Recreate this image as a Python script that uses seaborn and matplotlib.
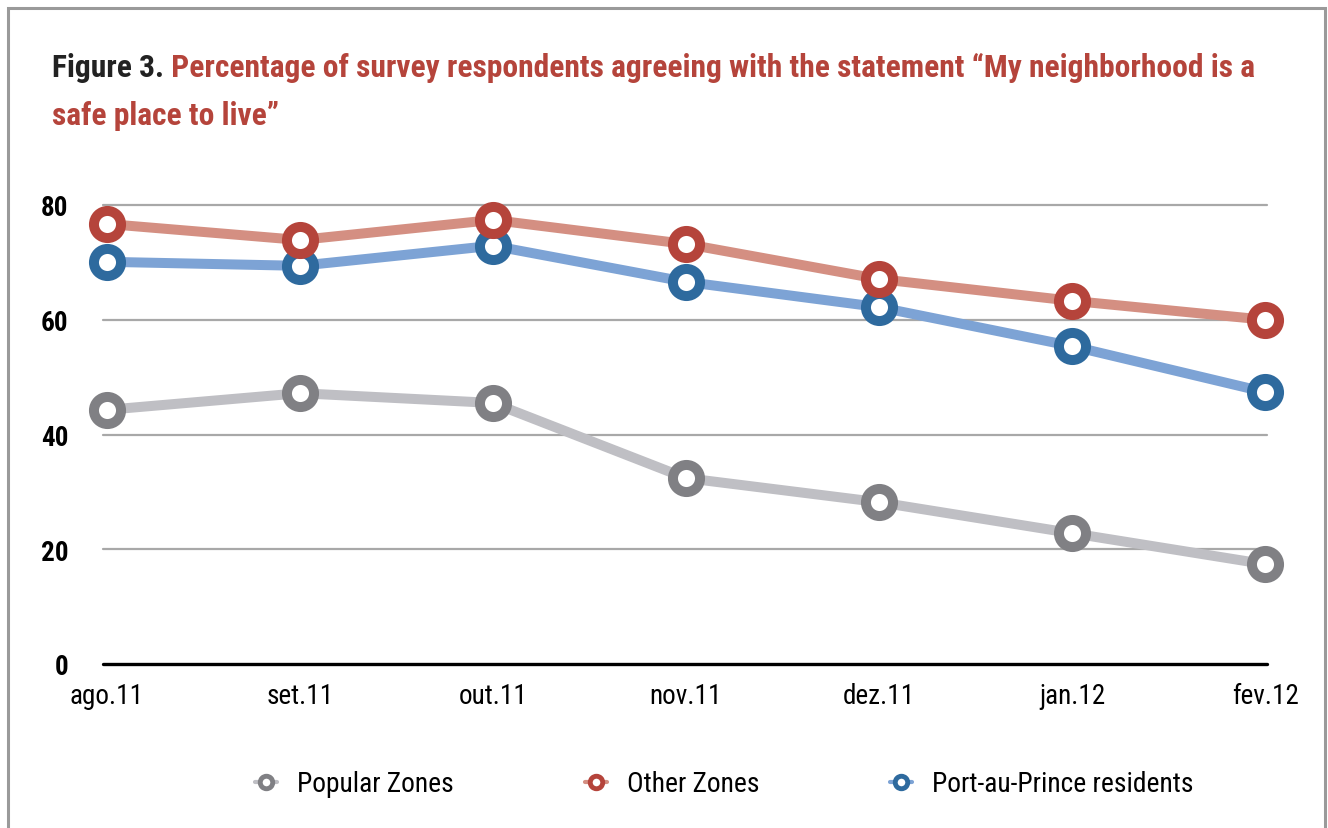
import matplotlib
matplotlib.use("Agg")
import matplotlib.pyplot as plt
from matplotlib.lines import Line2D
from matplotlib.patches import Rectangle
import pandas as pd
import seaborn as sns

months = ["ago.11", "set.11", "out.11", "nov.11", "dez.11", "jan.12", "fev.12"]
popular_zones = [44.3, 47.2, 45.5, 32.4, 28.2, 22.8, 17.4]
other_zones = [76.7, 73.9, 77.4, 73.2, 67.1, 63.3, 60.0]
port_au_prince = [70.1, 69.4, 72.9, 66.6, 62.2, 55.4, 47.4]
y_ticks = [0, 20, 40, 60, 80]

# name -> (values, line colour, marker ring colour); drawn in this order
SERIES = {
    "Popular Zones": (popular_zones, "#BFBFC4", "#808084"),
    "Port-au-Prince residents": (port_au_prince, "#7DA3D5", "#2E6A9E"),
    "Other Zones": (other_zones, "#D48F82", "#B5443B"),
}
LEGEND_ORDER = ["Popular Zones", "Other Zones", "Port-au-Prince residents"]

sns.set_theme(style="white")
plt.rcParams["font.family"] = ["Roboto Condensed", "Roboto", "DejaVu Sans"]

df = pd.DataFrame(
    [{"x": i, "value": v, "series": name}
     for name, (vals, _, _) in SERIES.items() for i, v in enumerate(vals)]
)

fig = plt.figure(figsize=(13.28, 8.29), dpi=100)
ax = fig.add_axes([103 / 1328, 1 - 665 / 829, (1267 - 103) / 1328, (665 - 206) / 829])

for g in y_ticks[1:]:
    ax.axhline(g, color="#A8A8A8", lw=1.6, zorder=1, clip_on=False)
ax.axhline(0, color="black", lw=2.4, zorder=2, clip_on=False)

for name, (vals, lc, mc) in SERIES.items():
    sns.lineplot(
        data=df[df["series"] == name], x="x", y="value", ax=ax,
        color=lc, lw=7.2, marker="o", markersize=19.5, markeredgewidth=7.2,
        markerfacecolor="white", markeredgecolor=mc, clip_on=False, zorder=3,
    )

ax.set_xlim(-0.02, 6.01)
ax.set_ylim(0, 80)
ax.set_yticks(y_ticks)
ax.set_yticklabels([str(t) for t in y_ticks], fontsize=19.5, fontweight="bold", color="black")
ax.set_xticks(range(len(months)))
ax.set_xticklabels(months, fontsize=19.5, color="black")
ax.tick_params(axis="y", length=0, pad=25)
ax.tick_params(axis="x", length=0, pad=13)
ax.set_xlabel("")
ax.set_ylabel("")
ax.spines[["top", "right", "left", "bottom"]].set_visible(False)
if ax.get_legend():
    ax.get_legend().remove()

handles = [
    Line2D([], [], color=SERIES[n][1], lw=3, marker="o", markersize=9,
           markeredgewidth=3.5, markerfacecolor="white", markeredgecolor=SERIES[n][2])
    for n in LEGEND_ORDER
]
fig.legend(handles, LEGEND_ORDER, loc="center", bbox_to_anchor=(0.5456, 1 - 785 / 829),
           ncol=3, frameon=False, fontsize=19.8, handlelength=0.8, handletextpad=0.73,
           columnspacing=4.76, labelcolor="black")

# title: dark "Figure 3." followed by the red caption
t1 = fig.text(52 / 1328, 1 - 77 / 829, "Figure 3.", fontsize=22.7, fontweight="bold",
              color="#222222", va="baseline", ha="left")
ax.annotate(" Percentage of survey respondents agreeing with the statement \u201cMy neighborhood is a",
            xy=(1, 0), xycoords=t1, va="bottom", ha="left", fontsize=22.7,
            fontweight="bold", color="#B5443B", annotation_clip=False)
fig.text(52 / 1328, 1 - 125 / 829, "safe place to live\u201d", fontsize=22.7, fontweight="bold",
         color="#B5443B", va="baseline", ha="left")

# grey frame, open at the bottom edge
fig.patches.append(Rectangle((7.5 / 1328, -0.05), (1325 - 7.5) / 1328, 1.05 - 9 / 829,
                             transform=fig.transFigure, fill=False, edgecolor="#9A9A9A",
                             lw=2.2, clip_on=False))

fig.savefig("out.png", dpi=100)
